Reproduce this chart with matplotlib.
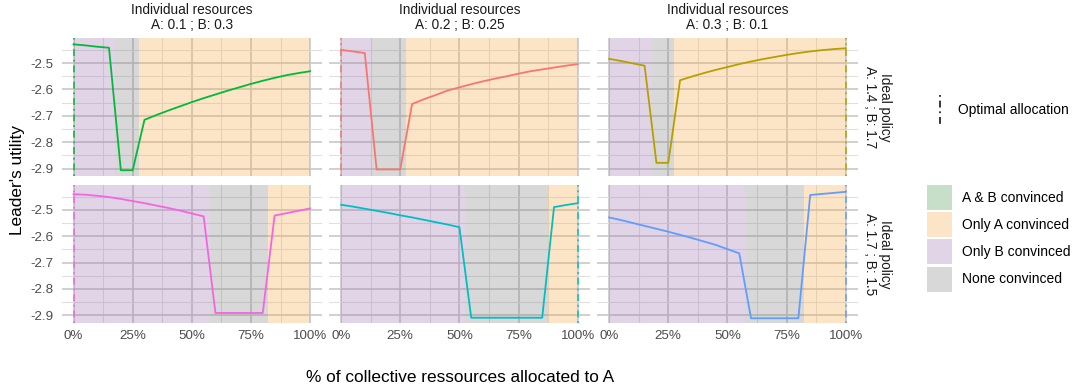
import matplotlib
matplotlib.use("Agg")
import matplotlib.pyplot as plt
from matplotlib.patches import Rectangle
from matplotlib.lines import Line2D

plt.rcParams['font.family'] = ['Liberation Sans', 'DejaVu Sans']

# share of collective resources given to A
alloc = [0.00, 0.05, 0.10, 0.15, 0.20, 0.25, 0.30, 0.35, 0.40, 0.45, 0.50,
         0.55, 0.60, 0.65, 0.70, 0.75, 0.80, 0.85, 0.90, 0.95, 1.00]

resources = ['A: 0.1 ; B: 0.3', 'A: 0.2 ; B: 0.25', 'A: 0.3 ; B: 0.1']
policies = ['A: 1.4 ; B: 1.7', 'A: 1.7 ; B: 1.5']

# leader's utility, one list per (policy, resources) panel
util_14_01 = [-2.429, -2.433, -2.438, -2.442, -2.906, -2.906, -2.715, -2.697, -2.680, -2.664, -2.648,
              -2.633, -2.619, -2.605, -2.592, -2.579, -2.567, -2.556, -2.546, -2.538, -2.531]
util_14_02 = [-2.450, -2.456, -2.462, -2.903, -2.903, -2.903, -2.655, -2.637, -2.621, -2.604, -2.592,
              -2.580, -2.569, -2.559, -2.550, -2.540, -2.531, -2.524, -2.517, -2.510, -2.504]
util_14_03 = [-2.484, -2.492, -2.501, -2.510, -2.878, -2.878, -2.565, -2.551, -2.538, -2.526, -2.515,
              -2.504, -2.494, -2.485, -2.477, -2.469, -2.462, -2.456, -2.451, -2.447, -2.444]
util_17_01 = [-2.441, -2.443, -2.447, -2.452, -2.459, -2.467, -2.475, -2.484, -2.493, -2.503, -2.514,
              -2.525, -2.891, -2.891, -2.891, -2.891, -2.891, -2.522, -2.513, -2.504, -2.495]
util_17_02 = [-2.481, -2.488, -2.496, -2.504, -2.512, -2.521, -2.529, -2.538, -2.547, -2.556, -2.566,
              -2.909, -2.909, -2.909, -2.909, -2.909, -2.909, -2.909, -2.490, -2.482, -2.475]
util_17_03 = [-2.529, -2.539, -2.550, -2.561, -2.572, -2.583, -2.595, -2.607, -2.620, -2.633, -2.649,
              -2.665, -2.911, -2.911, -2.911, -2.911, -2.911, -2.444, -2.440, -2.436, -2.432]

# who is convinced along the allocation axis: (from, to, zone)
zones_14_01 = [(0, 0.176, 'Only B'), (0.176, 0.275, 'None'), (0.275, 1, 'Only A')]
zones_14_02 = [(0, 0.127, 'Only B'), (0.127, 0.275, 'None'), (0.275, 1, 'Only A')]
zones_14_03 = [(0, 0.180, 'Only B'), (0.180, 0.275, 'None'), (0.275, 1, 'Only A')]
zones_17_01 = [(0, 0.577, 'Only B'), (0.577, 0.824, 'None'), (0.824, 1, 'Only A')]
zones_17_02 = [(0, 0.525, 'Only B'), (0.525, 0.873, 'None'), (0.873, 1, 'Only A')]
zones_17_03 = [(0, 0.575, 'Only B'), (0.575, 0.824, 'None'), (0.824, 1, 'Only A')]

optimal_14 = [0, 0, 1]
optimal_17 = [0, 1, 1]

utils = [[util_14_01, util_14_02, util_14_03], [util_17_01, util_17_02, util_17_03]]
zones = [[zones_14_01, zones_14_02, zones_14_03], [zones_17_01, zones_17_02, zones_17_03]]
optimal = [optimal_14, optimal_17]

line_colors = [['#00BA38', '#F8766D', '#B79F00'], ['#F564E3', '#00BFC4', '#619CFF']]
zone_fill = {'A & B': '#48984e', 'Only A': '#f8ac48', 'Only B': '#9e73b2', 'None': '#808080'}
zone_alpha = 0.3
dotdash = (0, (1.2, 2.5, 4.5, 2.5))

W, H = 1078, 392
fig = plt.figure(figsize=(W / 100, H / 100), dpi=100)

lefts = [61.7, 329.3, 597.3]
tops = [38.0, 184.7]
pw, ph = 260.2, 138.3

for r in range(2):
    for c in range(3):
        ax = fig.add_axes([lefts[c] / W, 1 - (tops[r] + ph) / H, pw / W, ph / H])
        ax.set_xlim(-0.05, 1.05)
        ax.set_ylim(-2.929, -2.405)
        ax.set_axisbelow(True)
        for s in ax.spines.values():
            s.set_visible(False)

        ax.set_xticks([0, 0.25, 0.5, 0.75, 1])
        ax.set_xticks([0.125, 0.375, 0.625, 0.875], minor=True)
        ax.set_yticks([-2.9, -2.8, -2.7, -2.6, -2.5])
        ax.set_yticks([-2.85, -2.75, -2.65, -2.55, -2.45], minor=True)
        ax.grid(True, which='major', color='#c8c8c8', lw=1.2)
        ax.grid(True, which='minor', color='#e0e0e0', lw=0.8)
        ax.tick_params(which='both', length=0, labelsize=9.6, labelcolor='#4d4d4d')
        ax.tick_params(axis='y', pad=6)
        ax.tick_params(axis='x', pad=5)

        if r == 1:
            ax.set_xticklabels(['0%', '25%', '50%', '75%', '100%'])
        else:
            ax.set_xticklabels([])
        if c == 0:
            ax.set_yticklabels(['-2.9', '-2.8', '-2.7', '-2.6', '-2.5'])
        else:
            ax.set_yticklabels([])

        for x0, x1, z in zones[r][c]:
            ax.axvspan(x0, x1, color=zone_fill[z], alpha=zone_alpha, lw=0, zorder=1)

        ax.axvline(optimal[r][c], color=line_colors[r][c], lw=1.1, ls=dotdash, zorder=3)
        ax.plot(alloc, utils[r][c], color=line_colors[r][c], lw=1.3, zorder=4)

# facet strips
for c in range(3):
    cx = (lefts[c] + pw / 2) / W
    fig.text(cx, 1 - 10 / H, 'Individual resources', ha='center', va='center',
             fontsize=9.8, color='#1a1a1a')
    fig.text(cx, 1 - 25 / H, resources[c], ha='center', va='center',
             fontsize=9.8, color='#1a1a1a')
for r in range(2):
    cy = 1 - (tops[r] + ph / 2) / H
    fig.text(877.5 / W, cy, 'Ideal policy\n' + policies[r], ha='center', va='center',
             rotation=-90, multialignment='center', fontsize=9.8, color='#1a1a1a',
             linespacing=1.1)

# axis titles
fig.text(18 / W, 1 - 180 / H, "Leader's utility", rotation=90, ha='center', va='center',
         fontsize=12.4, color='black')
fig.text(459.6 / W, 1 - 378 / H, '% of collective ressources allocated to A',
         ha='center', va='center', fontsize=12.4, color='black')

# legends
fig.add_artist(Line2D([940 / W, 940 / W], [1 - 95 / H, 1 - 124 / H], color='black',
                      lw=1.1, ls=dotdash, transform=fig.transFigure))
fig.text(958 / W, 1 - 110 / H, 'Optimal allocation', ha='left', va='center', fontsize=10)

legend_zones = ['A & B', 'Only A', 'Only B', 'None']
legend_labels = ['A & B convinced', 'Only A convinced', 'Only B convinced', 'None convinced']
for i, (z, lab) in enumerate(zip(legend_zones, legend_labels)):
    y_top = 185 + i * 27.2
    fig.add_artist(Rectangle((927 / W, 1 - (y_top + 25) / H), 25 / W, 25 / H,
                             facecolor=zone_fill[z], alpha=zone_alpha, lw=0,
                             transform=fig.transFigure))
    fig.text(962 / W, 1 - (y_top + 12.5) / H, lab, ha='left', va='center', fontsize=10)

fig.savefig('out.png', dpi=100)
